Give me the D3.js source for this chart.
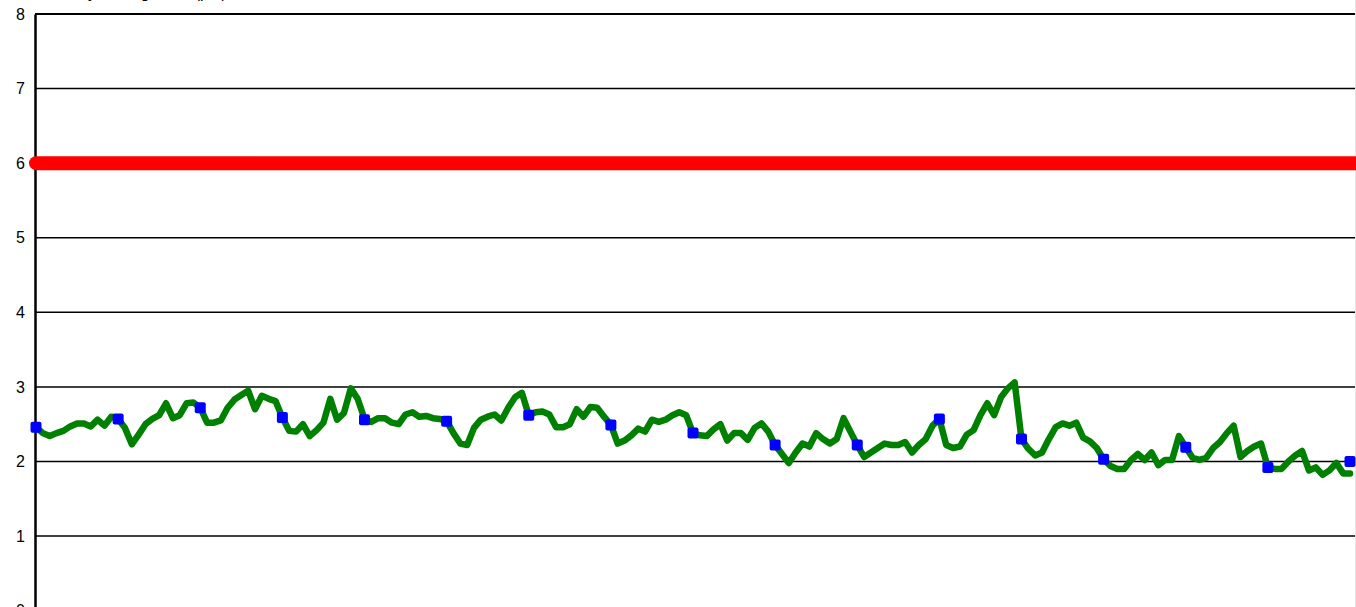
<!DOCTYPE html>
<html>
<head>
<meta charset="utf-8">
<script src="https://cdn.jsdelivr.net/npm/d3@7"></script>
<style>
  body { margin: 0; background: #fff; }
  svg { display: block; font-family: "Liberation Sans", Arial, sans-serif; }
</style>
</head>
<body>
<svg id="chart" width="1356" height="607"></svg>
<script>
// monthly values (green line), 193 months
var monthly = [
  2.46, 2.38, 2.34, 2.38, 2.41, 2.47, 2.51, 2.51, 2.47, 2.56, 2.48, 2.60,
  2.57, 2.45, 2.23, 2.36, 2.50, 2.57, 2.62, 2.78, 2.58, 2.62, 2.78, 2.79,
  2.72, 2.52, 2.52, 2.55, 2.72, 2.83, 2.89, 2.95, 2.70, 2.88, 2.84, 2.81,
  2.59, 2.41, 2.40, 2.50, 2.34, 2.42, 2.52, 2.84, 2.56, 2.65, 2.98, 2.84,
  2.57, 2.53, 2.58, 2.58, 2.52, 2.50, 2.63, 2.66, 2.60, 2.61, 2.58, 2.57,
  2.54, 2.38, 2.24, 2.22, 2.45, 2.56, 2.60, 2.63, 2.55, 2.72, 2.86, 2.92,
  2.62, 2.66, 2.67, 2.63, 2.46, 2.46, 2.50, 2.70, 2.60, 2.73, 2.72, 2.60,
  2.49, 2.24, 2.28, 2.35, 2.44, 2.40, 2.56, 2.53, 2.56, 2.62, 2.66, 2.62,
  2.38, 2.35, 2.34, 2.43, 2.50, 2.28, 2.38, 2.38, 2.29, 2.45, 2.51, 2.40,
  2.22, 2.10, 1.98, 2.12, 2.24, 2.20, 2.38, 2.30, 2.24, 2.30, 2.58, 2.40,
  2.22, 2.06, 2.12, 2.18, 2.24, 2.22, 2.22, 2.26, 2.12, 2.22, 2.30, 2.48,
  2.57, 2.22, 2.18, 2.20, 2.36, 2.42, 2.62, 2.78, 2.62, 2.86, 2.98, 3.06,
  2.30, 2.17, 2.08, 2.12, 2.30, 2.46, 2.51, 2.48, 2.52, 2.32, 2.27, 2.18,
  2.03, 1.94, 1.90, 1.90, 2.02, 2.10, 2.02, 2.12, 1.95, 2.02, 2.02, 2.34,
  2.19, 2.05, 2.02, 2.05, 2.18, 2.26, 2.38, 2.48, 2.06, 2.14, 2.20, 2.24,
  1.92, 1.90, 1.90, 2.00, 2.08, 2.14, 1.88, 1.92, 1.82, 1.88, 1.98, 1.84,
  1.84
];

// yearly values (blue squares), one every 12 months
var yearly = [2.46, 2.57, 2.72, 2.59, 2.56, 2.54, 2.62, 2.49, 2.38,
              2.22, 2.22, 2.57, 2.30, 2.03, 2.19, 1.92, 2.00];

var target = 6;
var yTicks = [0, 1, 2, 3, 4, 5, 6, 7, 8];

var svg = d3.select("#chart");

var x = d3.scaleLinear().domain([0, monthly.length - 1]).range([36, 1350]);
var y = d3.scaleLinear().domain([0, 8]).range([610.6, 14]);

// gridlines
svg.append("g")
  .selectAll("line")
  .data(yTicks.filter(function(d) { return d > 0 && d < 8; }))
  .join("line")
  .attr("x1", 35).attr("x2", 1356)
  .attr("y1", function(d) { return y(d); })
  .attr("y2", function(d) { return y(d); })
  .attr("stroke", "#000").attr("stroke-width", 1.5);

// top border
svg.append("line").attr("x1", 35).attr("x2", 1356).attr("y1", y(8)).attr("y2", y(8))
  .attr("stroke", "#000").attr("stroke-width", 2.2);

// right edge
svg.append("line").attr("x1", 1355.5).attr("x2", 1355.5).attr("y1", 0).attr("y2", 607)
  .attr("stroke", "#e6e6e6").attr("stroke-width", 1);

// y axis
var yAxis = d3.axisLeft(y).tickValues(yTicks).tickSize(0).tickPadding(10);
var ya = svg.append("g").attr("transform", "translate(35,0)").call(yAxis);
ya.select(".domain").attr("stroke", "#000").attr("stroke-width", 2.5);
ya.selectAll("text").style("font-size", "16px").attr("fill", "#000")
  .attr("font-family", "Liberation Sans, Arial, sans-serif");

// cut-off title above the plot
svg.append("text").attr("x", 40).attr("y", -2).text("Monthly average rate (pct)")
  .style("font-size", "16px").attr("fill", "#000");

// target line
svg.append("line")
  .attr("x1", x(0)).attr("x2", x(200))
  .attr("y1", y(target)).attr("y2", y(target))
  .attr("stroke", "#ff0000").attr("stroke-width", 14).attr("stroke-linecap", "round");

// monthly line
var line = d3.line()
  .x(function(d, i) { return x(i); })
  .y(function(d) { return y(d); });

svg.append("path")
  .datum(monthly)
  .attr("d", line)
  .attr("fill", "none")
  .attr("stroke", "#008000")
  .attr("stroke-width", 6.5)
  .attr("stroke-linejoin", "round")
  .attr("stroke-linecap", "round");

// yearly markers
svg.append("g")
  .selectAll("rect")
  .data(yearly)
  .join("rect")
  .attr("x", function(d, i) { return x(i * 12) - 5.5; })
  .attr("y", function(d) { return y(d) - 5.5; })
  .attr("width", 11).attr("height", 11)
  .attr("rx", 2)
  .attr("fill", "#0000ff");
</script>
</body>
</html>
